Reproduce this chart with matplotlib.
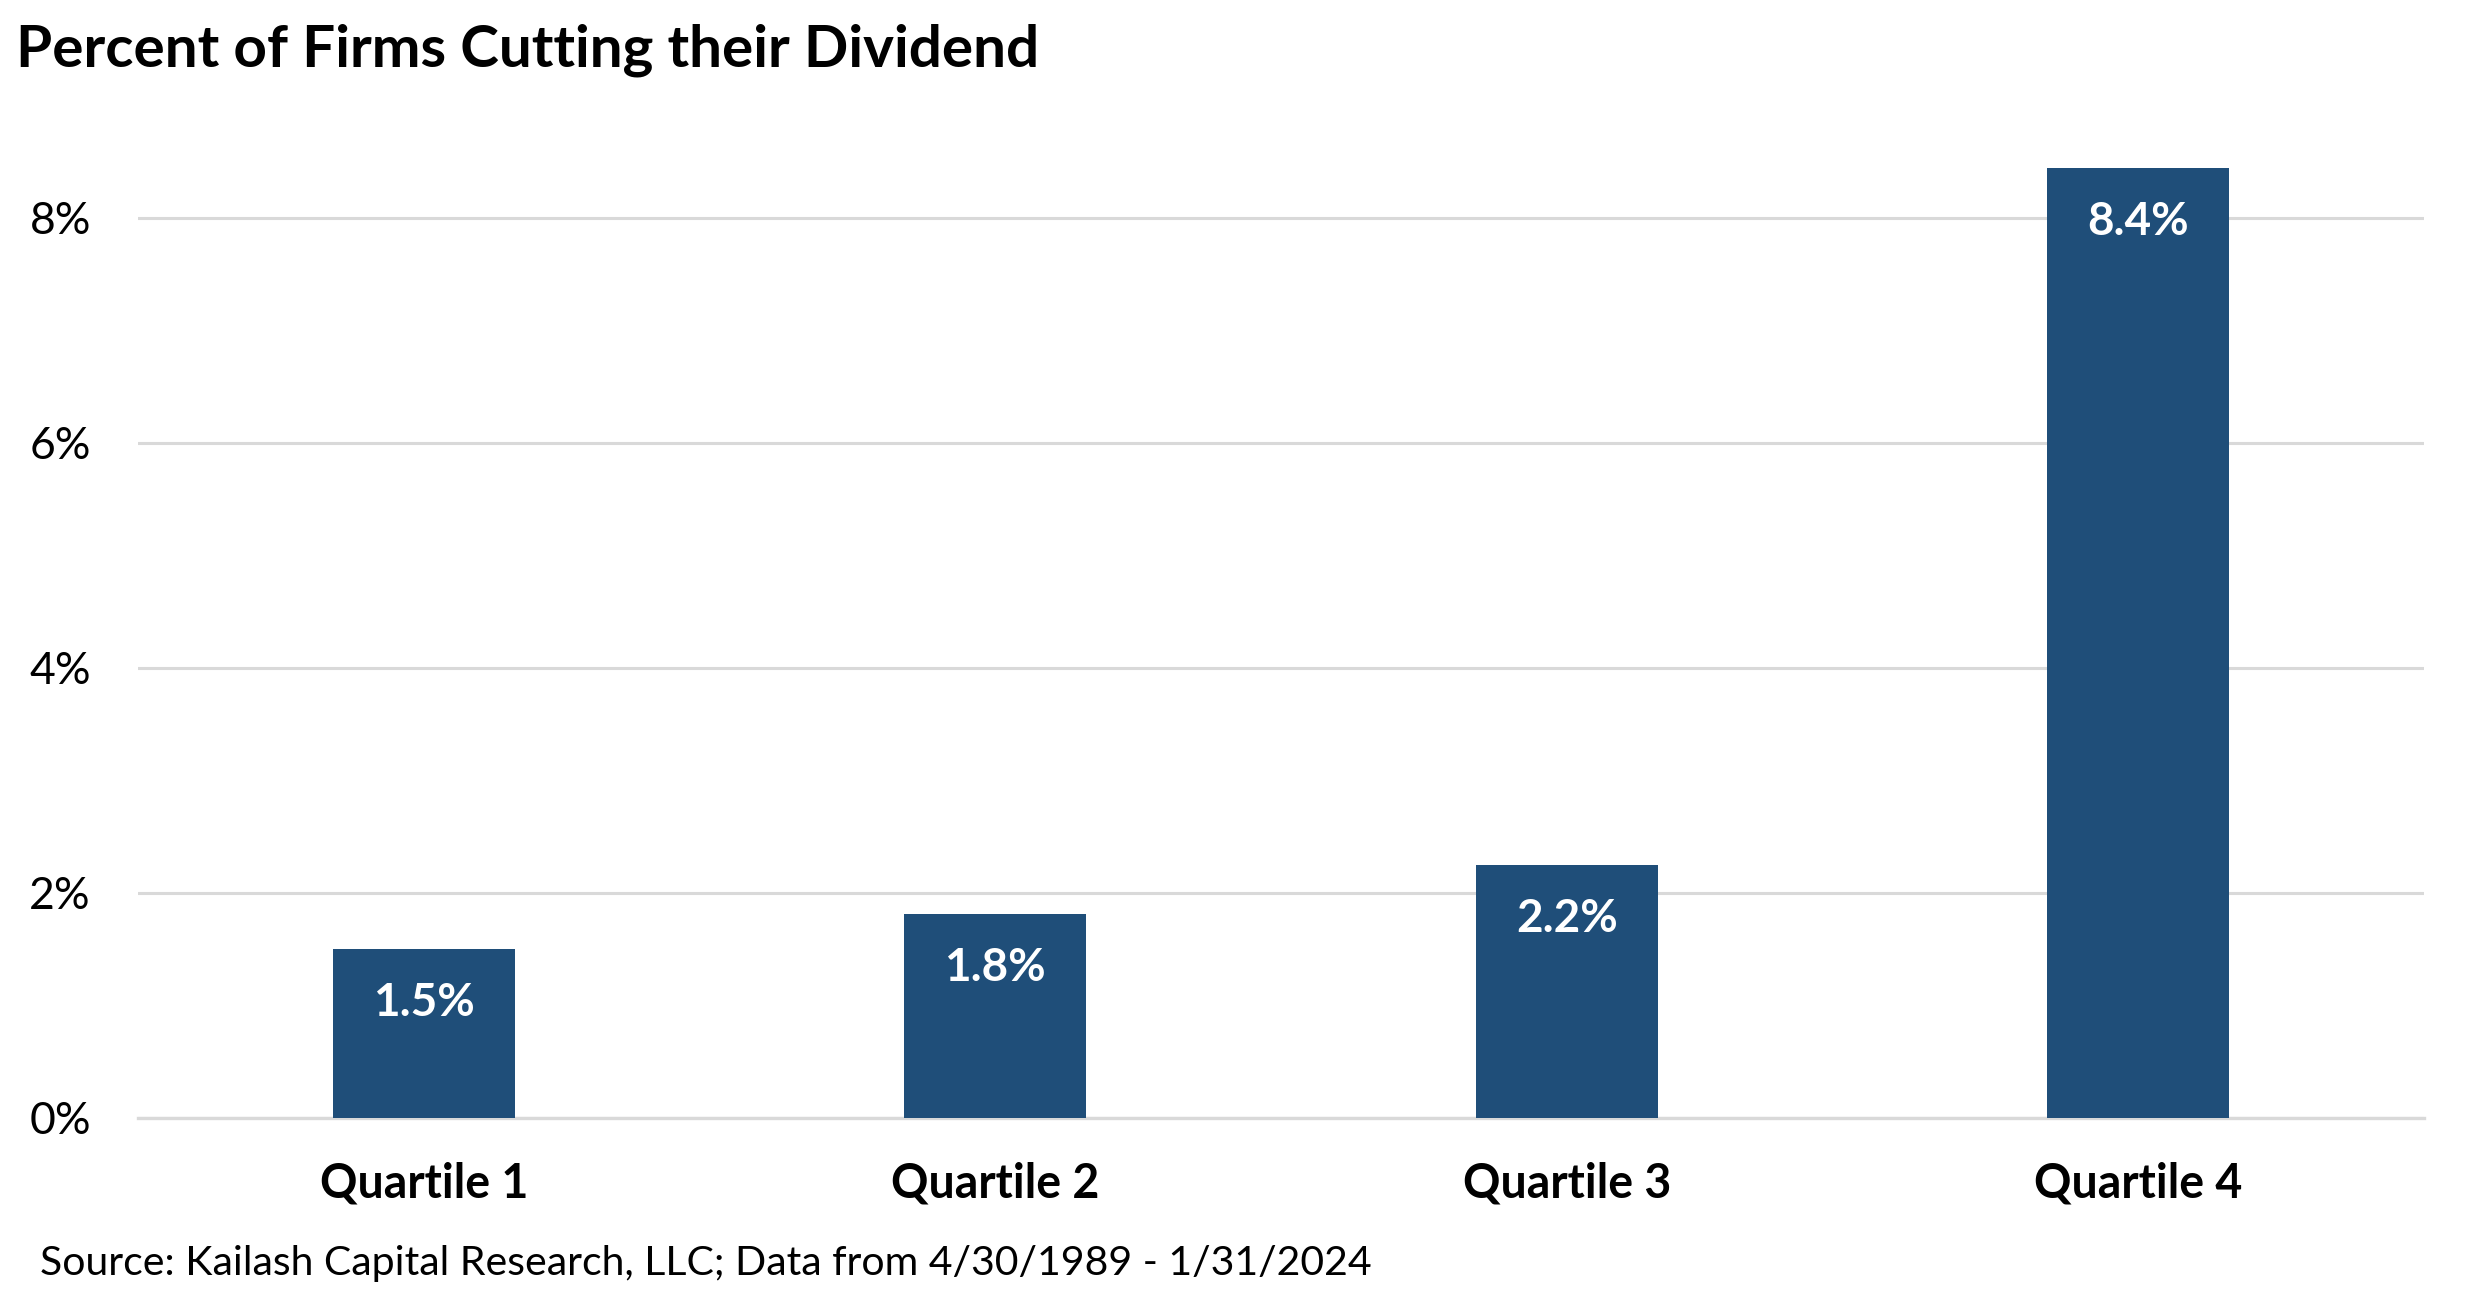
import matplotlib
matplotlib.use("Agg")
import matplotlib.pyplot as plt
from matplotlib.ticker import FuncFormatter

# data
quartiles = ["Quartile 1", "Quartile 2", "Quartile 3", "Quartile 4"]
pct_cutting = [1.50, 1.81, 2.25, 8.44]
bar_labels = ["1.5%", "1.8%", "2.2%", "8.4%"]
y_ticks = [0, 2, 4, 6, 8]

plt.rcParams['font.family'] = ['Lato', 'DejaVu Sans']

bar_color = "#1F4E79"
grid_color = "#D9D9D9"

fig = plt.figure(figsize=(24.75, 12.92), dpi=100)
ax = fig.add_axes([0.0558, 0.1347, 0.9236, 0.784])

x = range(len(quartiles))
bars = ax.bar(x, pct_cutting, width=0.318, color=bar_color, zorder=3)

# value labels inside top of each bar
for b, lab in zip(bars, bar_labels):
    ax.annotate(lab, xy=(b.get_x() + b.get_width() / 2, b.get_height()),
                xytext=(0, -39), textcoords="offset points",
                ha="center", va="center", color="white",
                fontsize=33, fontweight="bold", zorder=4)

ax.set_xlim(-0.5, 3.5)
ax.set_ylim(0, 9)
ax.set_yticks(y_ticks)
ax.yaxis.set_major_formatter(FuncFormatter(lambda v, p: f"{v:.0f}%"))
ax.set_xticks(list(x))
ax.set_xticklabels(quartiles, fontsize=33.5, fontweight="bold")
ax.tick_params(axis="y", length=0, labelsize=32, pad=34)
ax.tick_params(axis="x", length=0, pad=31)

ax.grid(axis="y", color=grid_color, linewidth=2.2, zorder=0)
for s in ["top", "right", "left"]:
    ax.spines[s].set_visible(False)
ax.spines["bottom"].set_color(grid_color)
ax.spines["bottom"].set_linewidth(2.4)

fig.text(0.0065, 0.982, "Percent of Firms Cutting their Dividend",
         fontsize=42, fontweight="bold", ha="left", va="top")
fig.text(0.016, 0.008, "Source: Kailash Capital Research, LLC; Data from 4/30/1989 - 1/31/2024",
         fontsize=29.5, ha="left", va="bottom")

fig.savefig("out.png", dpi=100)
